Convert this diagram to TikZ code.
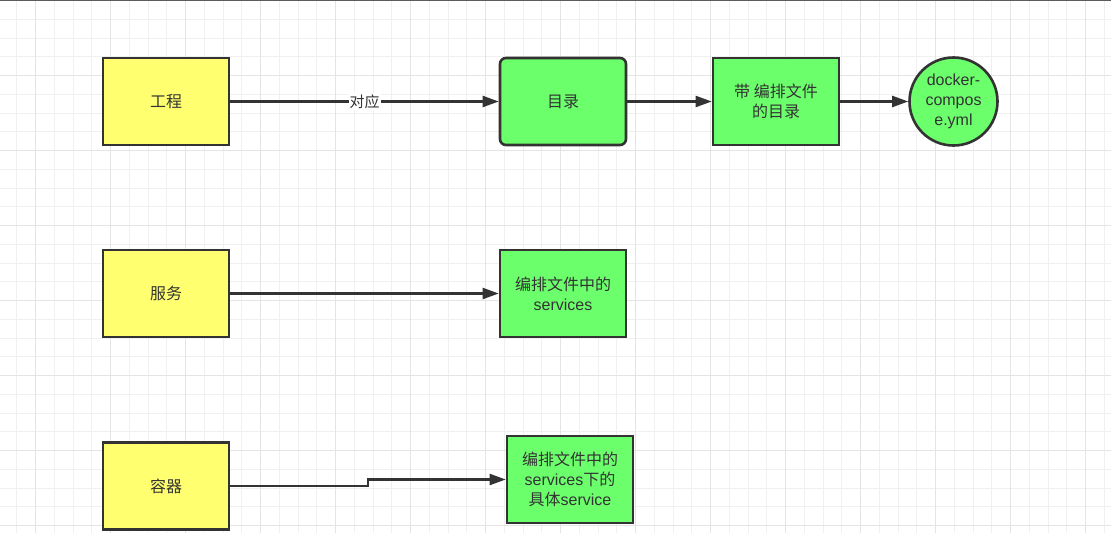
\documentclass[tikz,border=0pt]{standalone}
\usepackage{fontspec}
\setmainfont{Liberation Sans}
\newfontfamily\cjk{Noto Sans CJK SC}
\usetikzlibrary{arrows.meta}
\definecolor{boxline}{RGB}{51,51,51}
\definecolor{txt}{RGB}{51,51,51}
\definecolor{yel}{RGB}{255,255,112}
\definecolor{grn}{RGB}{108,255,108}
\definecolor{gridminor}{RGB}{240,240,240}
\definecolor{gridmajor}{RGB}{228,228,228}
\tikzset{
  base/.style={draw=boxline, line width=2.6pt, text=txt, align=center, inner sep=0pt,
    font=\fontsize{16}{20}\selectfont},
  ybox/.style={base, fill=yel, minimum width=126pt, minimum height=87pt},
  gbox/.style={base, fill=grn, minimum width=126pt, minimum height=87pt},
  gcirc/.style={base, fill=grn, circle, minimum size=88pt},
  conn/.style={draw=boxline, line width=2.2pt, -{Triangle[length=16pt,width=11pt]}},
}
\begin{document}
\begin{tikzpicture}[x=1pt,y=-1pt]
\useasboundingbox (0,0) rectangle (1111,533);
\fill[white] (0,0) rectangle (1111,533);
% grid
\foreach \i in {-1,...,58} {
  \draw[gridminor, line width=1pt] ({35.7+18.75*\i},0) -- ({35.7+18.75*\i},533);
}
\foreach \j in {0,...,28} {
  \draw[gridminor, line width=1pt] (0,{0.5+18.75*\j}) -- (1111,{0.5+18.75*\j});
}
\foreach \i in {0,...,14} {
  \draw[gridmajor, line width=1pt] ({35.7+75*\i},0) -- ({35.7+75*\i},533);
}
\foreach \j in {1,...,7} {
  \draw[gridmajor, line width=1pt] (0,{0.5+75*\j}) -- (1111,{0.5+75*\j});
}
\draw[boxline!80, line width=1.5pt] (0,0.5) -- (1111,0.5);

% nodes
\node[ybox] (gc) at (166,101.5) {\cjk 工程};
\node[ybox] (fw) at (166,293.5) {\cjk 服务};
\node[ybox] (rq) at (166,486) {\cjk 容器};
\node[gbox, rounded corners=6pt] (ml) at (563,101.5) {\cjk 目录};
\node[gbox] (dml) at (776,101.5) {{\cjk 带 编排文件}\\{\cjk 的目录}};
\node[gcirc] (dc) at (953.5,101.5) {docker-\\compos\\e.yml};
\node[gbox] (svc) at (563,293.5) {{\cjk 编排文件中的}\\services};
\node[gbox] (one) at (570,479.5) {{\cjk 编排文件中的}\\services{\cjk 下的}\\{\cjk 具体}service};

% connectors
\draw[conn] (gc) -- node[fill=white, text=txt, inner sep=1pt, font=\cjk\fontsize{15}{16}\selectfont, pos=0.5] {对应} (ml);
\draw[conn] (ml) -- (dml);
\draw[conn] (dml) -- (dc);
\draw[conn] (fw) -- (svc);
\coordinate (bend) at (368,486);
\draw[conn] (rq.east) -- (bend) -- (bend |- one.west) -- (one.west);
\end{tikzpicture}
\end{document}
